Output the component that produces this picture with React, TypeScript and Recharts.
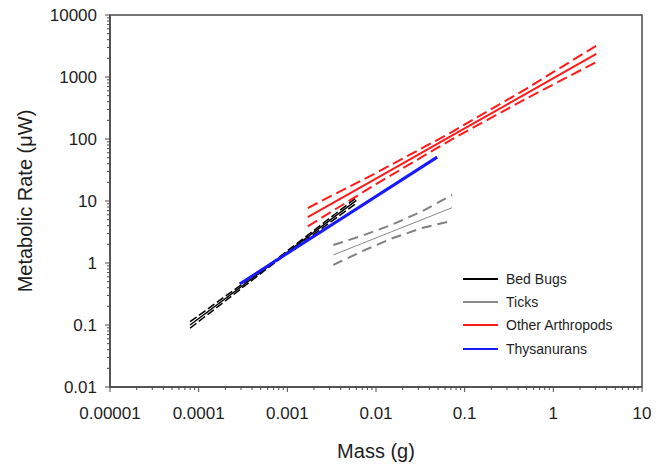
import React from "react";
import {
  LineChart,
  Line,
  XAxis,
  YAxis,
  Legend,
  ReferenceArea,
} from "recharts";

// Axis ticks and their labels (log-log plot)
const xMajorTicks = [0.00001, 0.0001, 0.001, 0.01, 0.1, 1, 10];
const xTickLabels = ["0.00001", "0.0001", "0.001", "0.01", "0.1", "1", "10"];
const yMajorTicks = [0.01, 0.1, 1, 10, 100, 1000, 10000];
const yTickLabels = ["0.01", "0.1", "1", "10", "100", "1000", "10000"];
const minorSteps = [2, 3, 4, 5, 6, 7, 8, 9];

const legendOrder = ["Bed Bugs", "Ticks", "Other Arthropods", "Thysanurans"];

// Bed Bugs: fit line with confidence bands
const bedBugMass = [0.00008, 0.0007, 0.006];
const bedBugRate = [0.1, 1.02, 10.2];
const bedBugUpper = [0.113, 1.06, 11.3];
const bedBugLower = [0.089, 0.98, 9.2];

// Ticks
const tickMass = [0.0033, 0.007, 0.015, 0.033, 0.072];
const tickRate = [1.35, 2.07, 3.2, 5.0, 7.8];
const tickUpper = [1.95, 2.76, 4.12, 6.8, 12.5];
const tickLower = [0.93, 1.55, 2.48, 3.66, 4.8];

// Other Arthropods
const arthMass = [0.0017, 0.01, 0.07, 0.5, 3.05];
const arthRate = [5.5, 23, 111, 543, 2350];
const arthUpper = [7.7, 28.3, 127, 652, 3200];
const arthLower = [3.9, 18.7, 97, 452, 1740];

// Thysanurans
const thysMass = [0.00029, 0.049];
const thysRate = [0.46, 51];

const toPoints = (mass: number[], rate: number[]) =>
  mass.map((m, i) => ({ m, r: rate[i] }));

const AXIS = "#4a4a4a";
const TEXT = "#1e1e1e";
const FONT = '"Liberation Sans", Arial, sans-serif';

const withMinors = (majors: number[]) => {
  const out: number[] = [];
  majors.forEach((v, i) => {
    out.push(v);
    if (i < majors.length - 1) minorSteps.forEach((s) => out.push(v * s));
  });
  return out;
};

const majorIndex = (v: number, majors: number[]) =>
  majors.findIndex((t) => Math.abs(t - v) / t < 1e-6);

const XTick = (props: any) => {
  const { x, y, payload } = props;
  const idx = majorIndex(payload.value, xMajorTicks);
  const major = idx >= 0;
  return (
    <g>
      <line x1={x} x2={x} y1={y} y2={y + (major ? 5 : 3)} stroke={AXIS} strokeWidth={1} />
      {major && (
        <text x={x} y={y + 32} textAnchor="middle" fontSize={17} fill={TEXT} fontFamily={FONT}>
          {xTickLabels[idx]}
        </text>
      )}
    </g>
  );
};

const YTick = (props: any) => {
  const { x, y, payload } = props;
  const idx = majorIndex(payload.value, yMajorTicks);
  const major = idx >= 0;
  return (
    <g>
      <line x1={x} x2={x - (major ? 5 : 3)} y1={y} y2={y} stroke={AXIS} strokeWidth={1} />
      {major && (
        <text x={x - 13} y={y + 6} textAnchor="end" fontSize={17} fill={TEXT} fontFamily={FONT}>
          {yTickLabels[idx]}
        </text>
      )}
    </g>
  );
};

const renderLegend = (props: any) => {
  const payload: any[] = props.payload || [];
  const entries = legendOrder
    .map((name) => payload.find((p) => p.value === name))
    .filter(Boolean);
  return (
    <div style={{ fontFamily: FONT, fontSize: 14, color: TEXT }}>
      {entries.map((entry: any) => (
        <div
          key={entry.value}
          style={{ display: "flex", alignItems: "center", height: 23.3 }}
        >
          <svg width={35} height={6} style={{ marginRight: 8 }}>
            <line x1={0} x2={35} y1={3} y2={3} stroke={entry.color} strokeWidth={2} />
          </svg>
          <span>{entry.value}</span>
        </div>
      ))}
    </div>
  );
};

export default function App() {
  return (
    <div
      style={{
        position: "fixed",
        left: 0,
        top: 0,
        width: 664,
        height: 464,
        background: "#fff",
      }}
    >
      <LineChart
        width={664}
        height={464}
        margin={{ top: 15, right: 22, bottom: 17, left: 10 }}
      >
        <XAxis
          dataKey="m"
          type="number"
          scale="log"
          domain={[0.00001, 10]}
          ticks={withMinors(xMajorTicks)}
          interval={0}
          allowDataOverflow
          height={60}
          tickSize={0}
          tickMargin={0}
          tickLine={false}
          tick={<XTick />}
          axisLine={{ stroke: AXIS, strokeWidth: 1.5 }}
          label={{
            value: "Mass (g)",
            position: "insideBottom",
            offset: -11,
            fontSize: 20,
            fill: TEXT,
            fontFamily: FONT,
          }}
        />
        <YAxis
          type="number"
          scale="log"
          domain={[0.01, 10000]}
          ticks={withMinors(yMajorTicks)}
          interval={0}
          allowDataOverflow
          width={100}
          tickSize={0}
          tickMargin={0}
          tickLine={false}
          tick={<YTick />}
          axisLine={{ stroke: AXIS, strokeWidth: 1.5 }}
          label={{
            value: "Metabolic Rate (μW)",
            angle: -90,
            position: "center",
            dx: -35,
            fontSize: 20,
            fill: TEXT,
            fontFamily: FONT,
          }}
        />
        <ReferenceArea
          x1={0.00001}
          x2={10}
          y1={0.01}
          y2={10000}
          fill="none"
          stroke={AXIS}
          strokeWidth={1.5}
        />

        {/* Bed Bugs */}
        <Line data={toPoints(bedBugMass, bedBugRate)} dataKey="r" name="Bed Bugs" stroke="#000" strokeWidth={1.5} dot={false} activeDot={false} isAnimationActive={false} />
        <Line data={toPoints(bedBugMass, bedBugUpper)} dataKey="r" stroke="#000" strokeWidth={1.5} strokeDasharray="8 3" dot={false} activeDot={false} legendType="none" isAnimationActive={false} />
        <Line data={toPoints(bedBugMass, bedBugLower)} dataKey="r" stroke="#000" strokeWidth={1.5} strokeDasharray="8 3" dot={false} activeDot={false} legendType="none" isAnimationActive={false} />

        {/* Ticks */}
        <Line data={toPoints(tickMass, tickRate)} dataKey="r" name="Ticks" stroke="#8a8a8a" strokeWidth={1} dot={false} activeDot={false} isAnimationActive={false} />
        <Line data={toPoints(tickMass, tickUpper)} dataKey="r" stroke="#808080" strokeWidth={2} strokeDasharray="10 6" dot={false} activeDot={false} legendType="none" isAnimationActive={false} />
        <Line data={toPoints(tickMass, tickLower)} dataKey="r" stroke="#808080" strokeWidth={2} strokeDasharray="10 6" dot={false} activeDot={false} legendType="none" isAnimationActive={false} />

        {/* Other Arthropods */}
        <Line data={toPoints(arthMass, arthRate)} dataKey="r" name="Other Arthropods" stroke="#ff1a1a" strokeWidth={2} dot={false} activeDot={false} isAnimationActive={false} />
        <Line data={toPoints(arthMass, arthUpper)} dataKey="r" stroke="#ff1a1a" strokeWidth={2} strokeDasharray="11 5" dot={false} activeDot={false} legendType="none" isAnimationActive={false} />
        <Line data={toPoints(arthMass, arthLower)} dataKey="r" stroke="#ff1a1a" strokeWidth={2} strokeDasharray="11 5" dot={false} activeDot={false} legendType="none" isAnimationActive={false} />

        {/* Thysanurans */}
        <Line data={toPoints(thysMass, thysRate)} dataKey="r" name="Thysanurans" stroke="#1a1aff" strokeWidth={3} dot={false} activeDot={false} isAnimationActive={false} />

        <Legend
          layout="vertical"
          align="center"
          verticalAlign="middle"
          content={renderLegend}
          wrapperStyle={{ left: 463, top: 267, width: 180, height: "auto" }}
        />
      </LineChart>
    </div>
  );
}
